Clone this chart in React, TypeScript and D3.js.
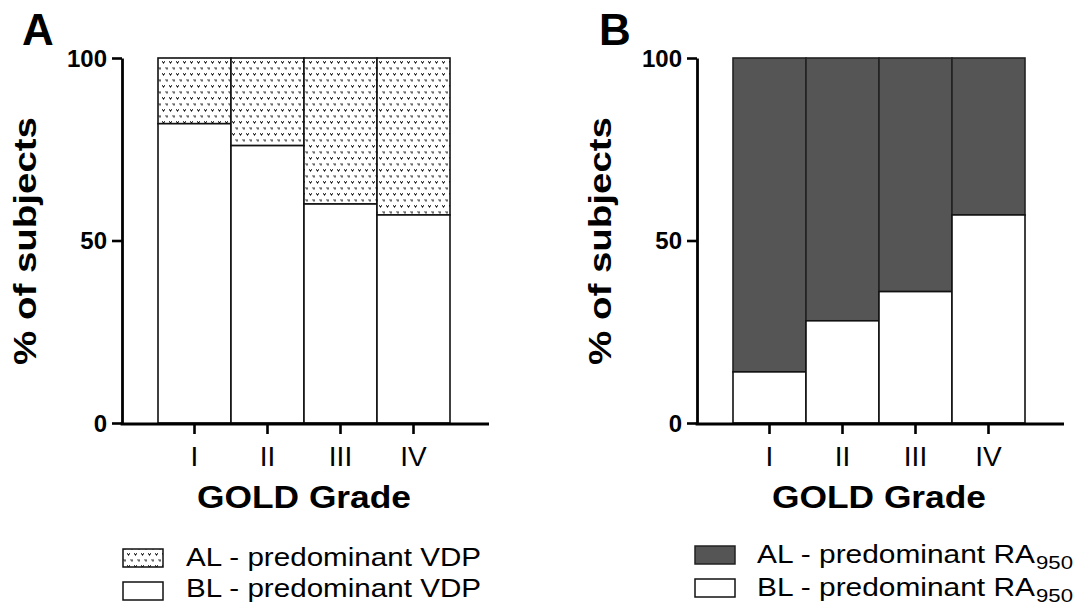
import { useRef, useEffect } from "react";
import * as d3 from "d3";

// GOLD grades on the x axis
const grades = ["I", "II", "III", "IV"];
// % of subjects with BL-predominant disease (the rest is AL)
const vdpBL = [82, 76, 60, 57];
const ra950BL = [14, 28, 36, 57];
const yTicks = [0, 50, 100];

const FONT = "'Liberation Sans', Arial, Helvetica, sans-serif";

const width = 1078;
const height = 609;

export default function App() {
  const container = useRef<HTMLDivElement>(null);

  useEffect(() => {
    const root = d3.select(container.current);
    root.selectAll("*").remove();

    const svg = root
      .append("svg")
      .attr("width", width)
      .attr("height", height)
      .style("position", "absolute")
      .style("left", 0)
      .style("top", 0)
      .style("background", "#fff");

    // dotted fill used for AL segments in panel A
    const pat = svg
      .append("defs")
      .append("pattern")
      .attr("id", "vdots")
      .attr("patternUnits", "userSpaceOnUse")
      .attr("width", 7)
      .attr("height", 12);
    pat.append("rect").attr("width", 7).attr("height", 12).attr("fill", "#fff");
    [
      [1, 1],
      [4.5, 7],
    ].forEach(([ox, oy]) => {
      const px = [
        [0, 0, "#444"],
        [2, 0, "#444"],
        [0, 1, "#888"],
        [2, 1, "#888"],
        [1, 1, "#111"],
        [1, 2, "#666"],
      ];
      px.forEach(([dx, dy, c]) => {
        pat
          .append("rect")
          .attr("x", ox + (dx as number))
          .attr("y", oy + (dy as number))
          .attr("width", 1)
          .attr("height", 1)
          .attr("fill", c as string);
      });
    });

    const y = d3.scaleLinear().domain([0, 100]).range([423, 58]);

    const panels = [
      {
        letter: "A",
        dx: 0,
        bl: vdpBL,
        alFill: "url(#vdots)",
        alStroke: "#111",
        sub: false,
        legendLabel: "predominant VDP",
        legendTextLen: 295,
        legendSwatchX: 123,
        legendTextX: 186,
        legendRows: [
          { sw: 549, base: 566 },
          { sw: 582, base: 597 },
        ],
      },
      {
        letter: "B",
        dx: 575,
        bl: ra950BL,
        alFill: "#555555",
        alStroke: "#222",
        sub: true,
        legendLabel: "predominant RA",
        legendTextLen: 278,
        legendSwatchX: 695,
        legendTextX: 757,
        legendRows: [
          { sw: 546, base: 563 },
          { sw: 579, base: 596 },
        ],
      },
    ];

    panels.forEach((p) => {
      const axisX = 122 + p.dx;
      const x = d3
        .scaleBand()
        .domain(grades)
        .range([158 + p.dx, 450 + p.dx])
        .paddingInner(0)
        .paddingOuter(0);

      const g = svg.append("g");

      // stacked bars: BL at the bottom, AL on top
      const bars = g
        .selectAll(".bar")
        .data(grades.map((gr, i) => ({ gr, bl: p.bl[i] })))
        .enter()
        .append("g");

      bars
        .append("rect")
        .attr("x", (d) => x(d.gr)!)
        .attr("y", y(100))
        .attr("width", x.bandwidth())
        .attr("height", (d) => y(d.bl) - y(100))
        .attr("fill", p.alFill)
        .attr("stroke", p.alStroke)
        .attr("stroke-width", 1.6);

      bars
        .append("rect")
        .attr("x", (d) => x(d.gr)!)
        .attr("y", (d) => y(d.bl))
        .attr("width", x.bandwidth())
        .attr("height", (d) => y(0) - y(d.bl))
        .attr("fill", "#fff")
        .attr("stroke", "#111")
        .attr("stroke-width", 1.6);

      // y axis
      const yAxis = g
        .append("g")
        .attr("transform", `translate(${axisX},0)`)
        .call(
          d3
            .axisLeft(y)
            .tickValues(yTicks)
            .tickSize(10)
            .tickSizeOuter(0)
            .tickPadding(5)
        );
      yAxis.select(".domain").attr("stroke", "#000").attr("stroke-width", 2.8);
      yAxis.selectAll(".tick line").attr("stroke", "#000").attr("stroke-width", 2.6);
      yAxis
        .selectAll(".tick text")
        .attr("font-family", FONT)
        .attr("font-weight", "bold")
        .attr("font-size", 24)
        .attr("fill", "#000")
        .attr("dy", "0.34em");

      // x axis
      const xAxis = g
        .append("g")
        .attr("transform", `translate(0,${y(0) + 1})`)
        .call(d3.axisBottom(x).tickSize(10).tickSizeOuter(0).tickPadding(10));
      xAxis.select(".domain").remove();
      xAxis.selectAll(".tick line").attr("stroke", "#000").attr("stroke-width", 2.6);
      xAxis
        .selectAll(".tick text")
        .attr("font-family", FONT)
        .attr("font-size", 28)
        .attr("fill", "#000")
        .attr("dy", "0.8em");
      g.append("line")
        .attr("x1", axisX - 1.4)
        .attr("x2", 489 + p.dx)
        .attr("y1", y(0) + 1)
        .attr("y2", y(0) + 1)
        .attr("stroke", "#000")
        .attr("stroke-width", 3);

      // x title
      g.append("text")
        .attr("x", (x.range()[0] + x.range()[1]) / 2)
        .attr("y", 508)
        .attr("text-anchor", "middle")
        .attr("font-family", FONT)
        .attr("font-weight", "bold")
        .attr("font-size", 32)
        .attr("textLength", 214)
        .attr("lengthAdjust", "spacingAndGlyphs")
        .text("GOLD Grade");

      // y title
      g.append("text")
        .attr("transform", `translate(${36 + p.dx},241) rotate(-90)`)
        .attr("text-anchor", "middle")
        .attr("font-family", FONT)
        .attr("font-weight", "bold")
        .attr("font-size", 32)
        .attr("textLength", 248)
        .attr("lengthAdjust", "spacingAndGlyphs")
        .text("% of subjects");

      // panel letter
      g.append("text")
        .attr("x", 22 + p.dx + (p.letter === "B" ? 2 : 0))
        .attr("y", 45)
        .attr("font-family", FONT)
        .attr("font-weight", "bold")
        .attr("font-size", 44)
        .text(p.letter);

      // legend
      const legendItems = [
        { key: "AL", fill: p.alFill, stroke: p.alStroke },
        { key: "BL", fill: "#fff", stroke: "#111" },
      ];
      legendItems.forEach((it, i) => {
        const row = p.legendRows[i];
        g.append("rect")
          .attr("x", p.legendSwatchX)
          .attr("y", row.sw)
          .attr("width", 40)
          .attr("height", 18)
          .attr("fill", it.fill)
          .attr("stroke", it.stroke)
          .attr("stroke-width", 1.5);
        g.append("text")
          .attr("x", p.legendTextX)
          .attr("y", row.base)
          .attr("font-family", FONT)
          .attr("font-size", 25)
          .attr("textLength", p.legendTextLen)
          .attr("lengthAdjust", "spacingAndGlyphs")
          .text(`${it.key} - ${p.legendLabel}`);
        if (p.sub) {
          g.append("text")
            .attr("x", p.legendTextX + p.legendTextLen + 1)
            .attr("y", row.base + 6)
            .attr("font-family", FONT)
            .attr("font-size", 18)
            .attr("textLength", 37)
            .attr("lengthAdjust", "spacingAndGlyphs")
            .text("950");
        }
      });
    });
  }, []);

  return <div ref={container} />;
}
